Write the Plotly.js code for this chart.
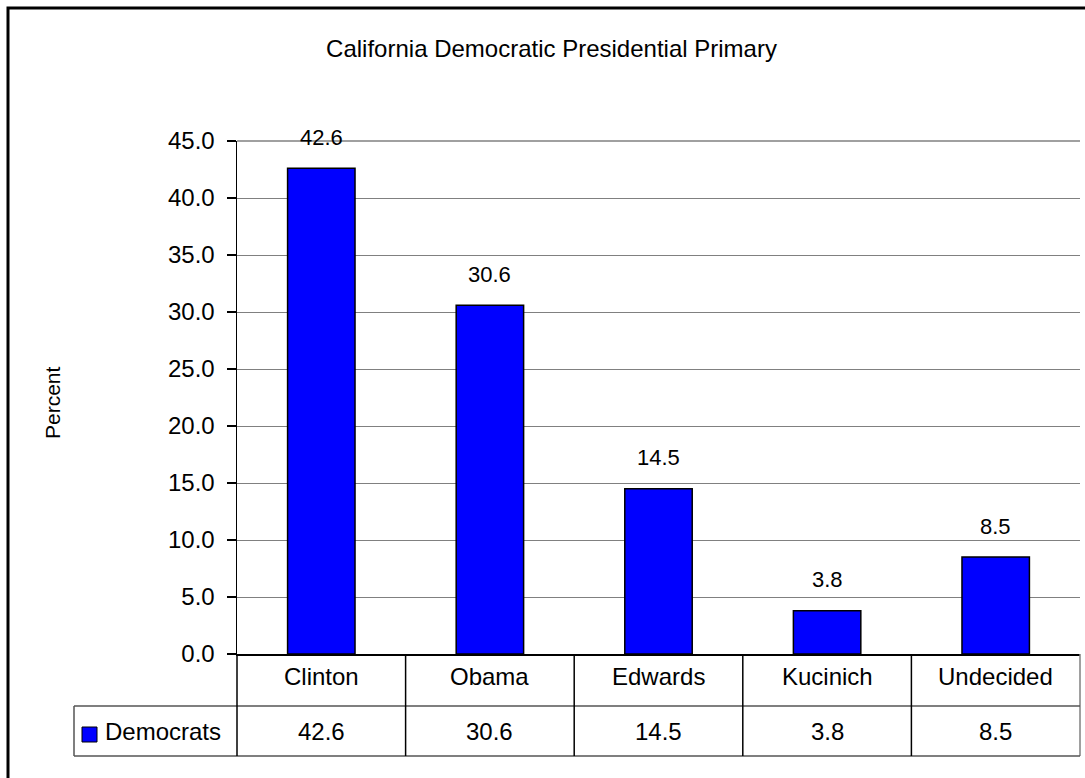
<!DOCTYPE html>
<html>
<head>
<meta charset="utf-8">
<script src="https://cdn.plot.ly/plotly-3.0.1.min.js"></script>
<style>
  html, body { margin: 0; padding: 0; background: #fff; }
  #chart { width: 1085px; height: 778px; }
</style>
</head>
<body>
<div id="chart"></div>
<script>
// ---- data ----
const chartTitle = 'California Democratic Presidential Primary';
const yAxisTitle = 'Percent';
const categories = ['Clinton', 'Obama', 'Edwards', 'Kucinich', 'Undecided'];
const seriesName = 'Democrats';
const values = [42.6, 30.6, 14.5, 3.8, 8.5];
const yRange = [0, 45];
const yStep = 5;

// ---- layout geometry ----
const W = 1085, H = 778;
const M = { l: 237, r: 5, t: 141, b: 124 };
const PW = W - M.l - M.r, PH = H - M.t - M.b;
const FONT = 'Liberation Sans, Arial, sans-serif';
// pixel -> paper helpers (for table chrome outside plot area)
const px = x => (x - M.l) / PW;
const py = y => (H - M.b - y) / PH;

const rowMidCat = py(676.5);
const rowLine1 = py(706);
const rowMidVal = py(732);
const rowLine2 = py(756);
const tableLeft = px(74);

const shapes = [];
const annotations = [];

// outer chart border (top & left visible)
shapes.push({ type: 'rect', xref: 'paper', yref: 'paper', x0: px(8), x1: px(1100), y0: py(8), y1: py(800),
  line: { color: '#000', width: 3 }, fillcolor: 'rgba(0,0,0,0)' });
// plot area top & right border (gray)
shapes.push({ type: 'line', xref: 'paper', yref: 'paper', x0: 0, x1: 1, y0: 1, y1: 1, line: { color: '#808080', width: 1.5 } });
shapes.push({ type: 'line', xref: 'paper', yref: 'paper', x0: 1, x1: 1, y0: 0, y1: rowLine2, line: { color: '#808080', width: 1.5 } });
// table horizontal lines
shapes.push({ type: 'line', xref: 'paper', yref: 'paper', x0: tableLeft, x1: 1, y0: rowLine1, y1: rowLine1, line: { color: '#555', width: 1.5 } });
shapes.push({ type: 'line', xref: 'paper', yref: 'paper', x0: tableLeft, x1: 1, y0: rowLine2, y1: rowLine2, line: { color: '#555', width: 1.5 } });
// table left edge of legend cell
shapes.push({ type: 'line', xref: 'paper', yref: 'paper', x0: tableLeft, x1: tableLeft, y0: rowLine1, y1: rowLine2, line: { color: '#555', width: 1.5 } });
// continuation of value axis line down through table
shapes.push({ type: 'line', xref: 'paper', yref: 'paper', x0: 0, x1: 0, y0: 0, y1: rowLine2, line: { color: '#000', width: 1.5 } });
// category separators
for (let i = 0; i < categories.length - 1; i++) {
  shapes.push({ type: 'line', xref: 'x', yref: 'paper', x0: i + 0.5, x1: i + 0.5, y0: 0, y1: rowLine2, line: { color: '#000', width: 1.5 } });
}
// legend key square
shapes.push({ type: 'rect', xref: 'paper', yref: 'paper', x0: px(82), x1: px(97), y0: py(727), y1: py(742),
  fillcolor: '#0000FF', line: { color: '#000', width: 1 } });

annotations.push({ xref: 'paper', yref: 'paper', x: px(103), y: rowMidVal, xanchor: 'left', yanchor: 'middle',
  text: seriesName, showarrow: false, font: { family: FONT, size: 24, color: '#000' } });

categories.forEach((c, i) => {
  annotations.push({ xref: 'x', yref: 'paper', x: c, y: rowMidCat, xanchor: 'center', yanchor: 'middle',
    text: c, showarrow: false, font: { family: FONT, size: 24, color: '#000' } });
  annotations.push({ xref: 'x', yref: 'paper', x: c, y: rowMidVal, xanchor: 'center', yanchor: 'middle',
    text: values[i].toFixed(1), showarrow: false, font: { family: FONT, size: 24, color: '#000' } });
  annotations.push({ xref: 'x', yref: 'y', x: c, y: values[i], yshift: 31, xanchor: 'center', yanchor: 'middle',
    text: values[i].toFixed(1), showarrow: false, font: { family: FONT, size: 22, color: '#000' } });
});

// y axis title
annotations.push({ xref: 'paper', yref: 'paper', x: px(52), y: py(403), xanchor: 'center', yanchor: 'middle',
  text: yAxisTitle, textangle: -90, showarrow: false, font: { family: FONT, size: 21, color: '#000' } });

const tickVals = [];
for (let v = yRange[0]; v <= yRange[1] + 1e-9; v += yStep) tickVals.push(v);

const trace = {
  type: 'bar',
  x: categories,
  y: values,
  name: seriesName,
  width: 0.4,
  marker: { color: '#0000FF', line: { color: '#000', width: 1.5 } },
  hoverinfo: 'skip'
};

const layout = {
  width: W, height: H,
  margin: M,
  paper_bgcolor: '#fff', plot_bgcolor: '#fff',
  showlegend: false,
  font: { family: FONT, color: '#000' },
  title: { text: chartTitle, font: { family: FONT, size: 24, color: '#000' },
    xref: 'container', x: 551.5 / W, xanchor: 'center', yref: 'container', y: 1 - 49 / H, yanchor: 'middle' },
  xaxis: {
    type: 'category', range: [-0.5, categories.length - 0.5],
    showticklabels: false, showgrid: false, zeroline: false, ticks: '',
    showline: true, linecolor: '#000', linewidth: 1.5
  },
  yaxis: {
    range: yRange, tickvals: tickVals, tickformat: '.1f',
    showgrid: true, gridcolor: '#808080', gridwidth: 1,
    zeroline: false, showline: true, linecolor: '#000', linewidth: 1.5,
    ticks: 'outside', ticklen: 9, tickcolor: '#000', tickwidth: 1.5,
    ticklabelstandoff: 7,
    tickfont: { family: FONT, size: 24, color: '#000' }
  },
  shapes: shapes,
  annotations: annotations
};

Plotly.newPlot('chart', [trace], layout, { staticPlot: true, displayModeBar: false });
</script>
</body>
</html>
